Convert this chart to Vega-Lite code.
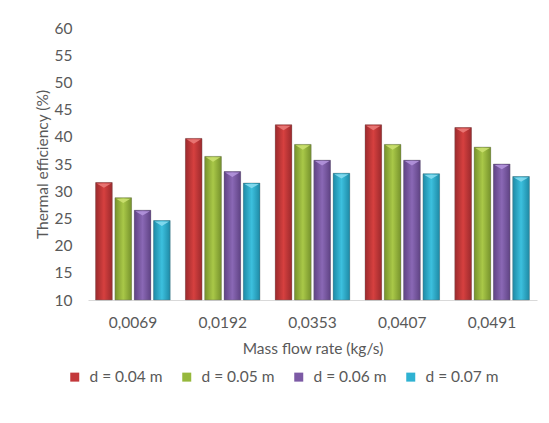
{
  "$schema": "https://vega.github.io/schema/vega-lite/v6.json",
  "width": 449,
  "height": 272,
  "padding": {"left": 35, "top": 21, "right": 12, "bottom": 5},
  "background": "white",
  "config": {
    "view": {"stroke": null},
    "font": "Lato",
    "axis": {"labelColor": "#595959", "titleColor": "#595959", "labelFontSize": 15.5, "titleFontSize": 15.5, "titleFontWeight": "normal"},
    "legend": {"labelColor": "#595959", "labelFontSize": 15.5}
  },
  "data": {
    "values": [
      {"m": "0,0069", "d": "d = 0.04 m", "eff": 31.6},
      {"m": "0,0069", "d": "d = 0.05 m", "eff": 28.8},
      {"m": "0,0069", "d": "d = 0.06 m", "eff": 26.5},
      {"m": "0,0069", "d": "d = 0.07 m", "eff": 24.6},
      {"m": "0,0192", "d": "d = 0.04 m", "eff": 39.7},
      {"m": "0,0192", "d": "d = 0.05 m", "eff": 36.4},
      {"m": "0,0192", "d": "d = 0.06 m", "eff": 33.6},
      {"m": "0,0192", "d": "d = 0.07 m", "eff": 31.5},
      {"m": "0,0353", "d": "d = 0.04 m", "eff": 42.2},
      {"m": "0,0353", "d": "d = 0.05 m", "eff": 38.6},
      {"m": "0,0353", "d": "d = 0.06 m", "eff": 35.7},
      {"m": "0,0353", "d": "d = 0.07 m", "eff": 33.3},
      {"m": "0,0407", "d": "d = 0.04 m", "eff": 42.2},
      {"m": "0,0407", "d": "d = 0.05 m", "eff": 38.6},
      {"m": "0,0407", "d": "d = 0.06 m", "eff": 35.7},
      {"m": "0,0407", "d": "d = 0.07 m", "eff": 33.2},
      {"m": "0,0491", "d": "d = 0.04 m", "eff": 41.7},
      {"m": "0,0491", "d": "d = 0.05 m", "eff": 38.1},
      {"m": "0,0491", "d": "d = 0.06 m", "eff": 35.0},
      {"m": "0,0491", "d": "d = 0.07 m", "eff": 32.7}
    ]
  },
  "encoding": {
    "x": {
      "field": "m", "type": "nominal", "sort": null,
      "title": "Mass flow rate (kg/s)",
      "scale": {"paddingInner": 0.17, "paddingOuter": 0.085},
      "axis": {"labelAngle": 0, "ticks": false, "domainColor": "#d9d9d9", "labelPadding": 15, "titlePadding": 11}
    },
    "xOffset": {"field": "d", "type": "nominal", "scale": {"paddingInner": 0.14}},
    "y": {
      "field": "eff", "type": "quantitative",
      "title": "Thermal efficiency (%)",
      "scale": {"domain": [10, 60], "nice": false, "zero": false},
      "axis": {"values": [10, 15, 20, 25, 30, 35, 40, 45, 50, 55, 60], "labelOverlap": false, "domain": false, "ticks": false, "grid": false, "labelPadding": 16, "titlePadding": 4}
    }
  },
  "layer": [
    {
      "mark": {"type": "bar"},
      "encoding": {
        "y2": {"datum": 10},
        "color": {
          "field": "d", "type": "nominal", "title": null,
          "scale": {"range": ["#c3383b", "#96b83c", "#7c5aa5", "#2fb2d2"]},
          "legend": {"orient": "none", "legendX": -21, "legendY": 341, "direction": "horizontal", "symbolType": "square", "symbolSize": 81, "columnPadding": 16, "labelOffset": 7}
        }
      }
    },
    {
      "mark": {"type": "bar", "stroke": "#666666", "strokeWidth": 0.6, "strokeOpacity": 0.6},
      "encoding": {
        "y2": {"datum": 10},
        "fill": {
          "condition": [
            {"test": "datum.d == 'd = 0.04 m'", "value": {"gradient": "linear", "x1": 0, "y1": 0, "x2": 1, "y2": 0, "stops": [{"offset": 0, "color": "#9c2a2d"}, {"offset": 0.5, "color": "#d6403f"}, {"offset": 1, "color": "#9c2a2d"}]}},
            {"test": "datum.d == 'd = 0.05 m'", "value": {"gradient": "linear", "x1": 0, "y1": 0, "x2": 1, "y2": 0, "stops": [{"offset": 0, "color": "#76922c"}, {"offset": 0.5, "color": "#a9c848"}, {"offset": 1, "color": "#76922c"}]}},
            {"test": "datum.d == 'd = 0.06 m'", "value": {"gradient": "linear", "x1": 0, "y1": 0, "x2": 1, "y2": 0, "stops": [{"offset": 0, "color": "#5f4384"}, {"offset": 0.5, "color": "#8a68b5"}, {"offset": 1, "color": "#5f4384"}]}}
          ],
          "value": {"gradient": "linear", "x1": 0, "y1": 0, "x2": 1, "y2": 0, "stops": [{"offset": 0, "color": "#1e8aa6"}, {"offset": 0.5, "color": "#3cc0de"}, {"offset": 1, "color": "#1e8aa6"}]}
        }
      }
    },
    {
      "mark": {"type": "point", "filled": true, "opacity": 0.9, "strokeWidth": 0, "shape": "M-0.9,0.05 L0.9,0.05 L0,0.6 Z", "size": 256, "yOffset": 0.5},
      "encoding": {
        "fill": {
          "field": "d", "type": "nominal", "legend": null,
          "scale": {"range": ["#ea7a78", "#cbe070", "#b394dc", "#86dcf0"]}
        }
      }
    }
  ]
}
